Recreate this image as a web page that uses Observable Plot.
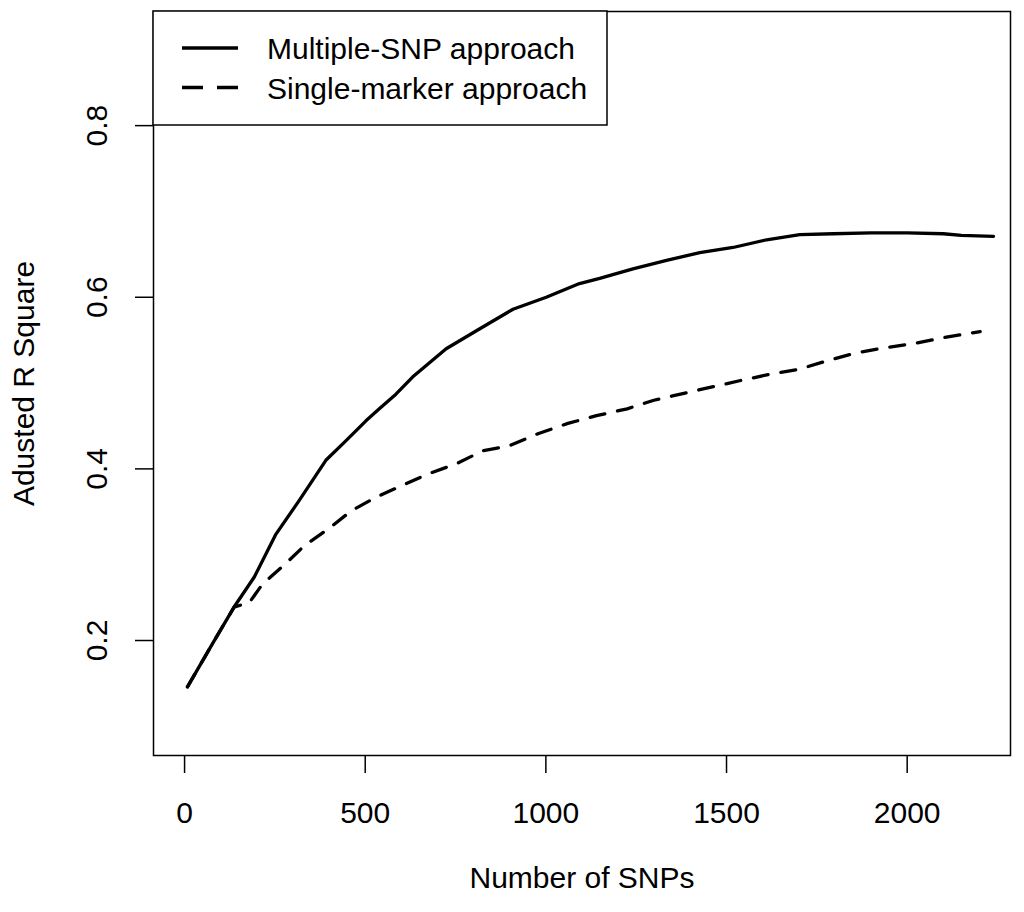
<!DOCTYPE html>
<html>
<head>
<meta charset="utf-8">
<script src="https://cdn.jsdelivr.net/npm/d3@7"></script>
<script src="https://cdn.jsdelivr.net/npm/@observablehq/plot@0.6"></script>
<style>
  html, body { margin: 0; padding: 0; background: #fff; }
  #chart svg { display: block; }
</style>
</head>
<body>
<div id="chart"></div>
<script>
// ---- data ----
const multiX = [8, 77, 137, 193, 253, 317, 391, 447, 502, 539, 585, 631, 724, 816, 909, 1001, 1093, 1149, 1241, 1334, 1426, 1518, 1611, 1703, 1795, 1900, 2000, 2100, 2150, 2239];
const multiY = [0.146, 0.196, 0.239, 0.274, 0.324, 0.363, 0.410, 0.433, 0.456, 0.470, 0.487, 0.507, 0.540, 0.563, 0.586, 0.600, 0.616, 0.622, 0.633, 0.643, 0.652, 0.658, 0.667, 0.673, 0.674, 0.675, 0.675, 0.674, 0.672, 0.671];

const singleX = [8, 77, 137, 179, 216, 273, 333, 398, 461, 530, 604, 673, 752, 825, 899, 978, 1061, 1140, 1225, 1299, 1382, 1465, 1539, 1617, 1700, 1779, 1857, 1936, 2019, 2102, 2202];
const singleY = [0.146, 0.196, 0.239, 0.244, 0.266, 0.287, 0.311, 0.330, 0.351, 0.367, 0.381, 0.394, 0.406, 0.421, 0.427, 0.441, 0.453, 0.462, 0.470, 0.480, 0.488, 0.496, 0.503, 0.510, 0.516, 0.526, 0.535, 0.541, 0.546, 0.553, 0.560];

const xTicks = [0, 500, 1000, 1500, 2000];
const yTicks = [0.2, 0.4, 0.6, 0.8];
const seriesNames = ["Multiple-SNP approach", "Single-marker approach"];
const xTitle = "Number of SNPs";
const yTitle = "Adusted R Square";

const multi = multiX.map((x, i) => ({x, y: multiY[i]}));
const single = singleX.map((x, i) => ({x, y: singleY[i]}));

const FONT = "'Liberation Sans', Arial, sans-serif";

const plot = Plot.plot({
  width: 1024,
  height: 912,
  marginLeft: 153,
  marginRight: 14,
  marginTop: 11,
  marginBottom: 157,
  style: {fontFamily: FONT, fontSize: "30px", color: "black", background: "white"},
  x: {domain: [-86, 2286]},
  y: {domain: [0.066, 0.933]},
  marks: [
    Plot.frame({stroke: "black", strokeWidth: 1.5}),
    Plot.axisX({ticks: xTicks, tickSize: 18, tickPadding: 28, tickFormat: d3.format("d"), label: null, strokeWidth: 1.5}),
    // y tick lines only
    Plot.axisY({ticks: yTicks, tickSize: 18, tickFormat: () => "", label: null, strokeWidth: 1.5}),
    // y tick labels, rotated like R's default
    Plot.axisY({ticks: yTicks, tickSize: 0, tickPadding: 56, rotate: -90, textAnchor: "middle", lineAnchor: "middle", tickFormat: d3.format(".1f"), label: null}),
    Plot.line(multi, {x: "x", y: "y", stroke: "black", strokeWidth: 3.3}),
    Plot.line(single, {x: "x", y: "y", stroke: "black", strokeWidth: 3.3, strokeDasharray: "15,13"}),
    Plot.text([xTitle], {frameAnchor: "bottom", dy: 123, lineAnchor: "middle", textAnchor: "middle", fontSize: 30, fill: "black"}),
    Plot.text([yTitle], {frameAnchor: "left", dx: -129, rotate: -90, lineAnchor: "middle", textAnchor: "middle", fontSize: 30, fill: "black"})
  ]
});

// ---- legend (R-style box in the top-left corner) ----
const svg = d3.select(plot);
const lg = svg.append("g").attr("font-family", FONT).attr("font-size", 30).attr("text-anchor", "start");
lg.append("rect").attr("x", 153).attr("y", 11).attr("width", 454).attr("height", 114)
  .attr("fill", "white").attr("stroke", "black").attr("stroke-width", 1.5);
lg.append("line").attr("x1", 182).attr("x2", 238).attr("y1", 48).attr("y2", 48)
  .attr("stroke", "black").attr("stroke-width", 3.3);
lg.append("line").attr("x1", 182).attr("x2", 238).attr("y1", 87.5).attr("y2", 87.5)
  .attr("stroke", "black").attr("stroke-width", 3.3).attr("stroke-dasharray", "21,14");
lg.append("text").attr("x", 267).attr("y", 48).attr("dy", "0.35em").attr("fill", "black").text(seriesNames[0]);
lg.append("text").attr("x", 267).attr("y", 88).attr("dy", "0.35em").attr("fill", "black").text(seriesNames[1]);

document.getElementById("chart").appendChild(plot);
</script>
</body>
</html>
